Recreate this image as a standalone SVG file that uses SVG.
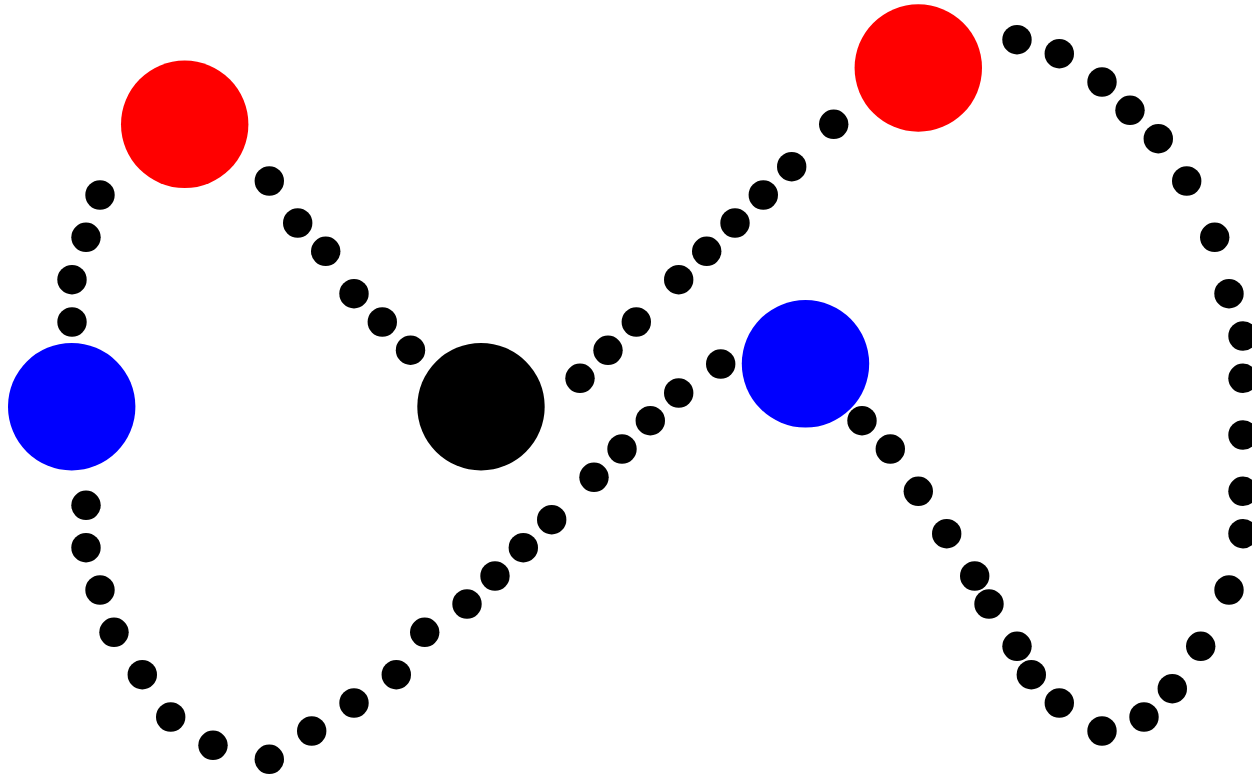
<svg xmlns="http://www.w3.org/2000/svg" width="1252" height="777" viewBox="0 0 1252 777">
<style>
.d{fill:#000}
.big{r:63.7px}
.red{fill:#ff0000}
.blue{fill:#0000ff}
.blk{fill:#000}
</style>
<rect width="1252" height="777" fill="#fff"/>
<g id="connectors" class="d">
<circle cx="100" cy="195" r="14.7"/>
<circle cx="86" cy="237.3" r="14.7"/>
<circle cx="72" cy="279.7" r="14.7"/>
<circle cx="72" cy="322" r="14.7"/>
<circle cx="269.3" cy="181" r="14.7"/>
<circle cx="297.7" cy="223" r="14.7"/>
<circle cx="325.7" cy="251.3" r="14.7"/>
<circle cx="354" cy="293.7" r="14.7"/>
<circle cx="382.3" cy="322" r="14.7"/>
<circle cx="410.5" cy="350.2" r="14.7"/>
<circle cx="580" cy="378.3" r="14.7"/>
<circle cx="608" cy="350.3" r="14.7"/>
<circle cx="636.3" cy="322" r="14.7"/>
<circle cx="678.7" cy="279.7" r="14.7"/>
<circle cx="706.7" cy="251.3" r="14.7"/>
<circle cx="735" cy="223" r="14.7"/>
<circle cx="763.3" cy="195" r="14.7"/>
<circle cx="791.7" cy="166.7" r="14.7"/>
<circle cx="833.7" cy="124.3" r="14.7"/>
<circle cx="1017" cy="39.7" r="14.7"/>
<circle cx="1059.3" cy="53.7" r="14.7"/>
<circle cx="1102" cy="82" r="14.7"/>
<circle cx="1130" cy="110.3" r="14.7"/>
<circle cx="1158.3" cy="138.7" r="14.7"/>
<circle cx="1186.7" cy="181" r="14.7"/>
<circle cx="1214.7" cy="237.3" r="14.7"/>
<circle cx="1229" cy="293.7" r="14.7"/>
<circle cx="1243" cy="336" r="14.7"/>
<circle cx="1243" cy="378.3" r="14.7"/>
<circle cx="1243" cy="435" r="14.7"/>
<circle cx="1243" cy="491.3" r="14.7"/>
<circle cx="1243" cy="533.7" r="14.7"/>
<circle cx="1229" cy="590" r="14.7"/>
<circle cx="1200.7" cy="646.3" r="14.7"/>
<circle cx="1172.3" cy="688.7" r="14.7"/>
<circle cx="1144" cy="717" r="14.7"/>
<circle cx="1102" cy="731" r="14.7"/>
<circle cx="1059.3" cy="703" r="14.7"/>
<circle cx="1031.3" cy="674.7" r="14.7"/>
<circle cx="1017" cy="646.3" r="14.7"/>
<circle cx="989" cy="604" r="14.7"/>
<circle cx="974.7" cy="576" r="14.7"/>
<circle cx="946.7" cy="533.7" r="14.7"/>
<circle cx="918.3" cy="491.3" r="14.7"/>
<circle cx="890.3" cy="449" r="14.7"/>
<circle cx="862" cy="420.7" r="14.7"/>
<circle cx="720.7" cy="364" r="14.7"/>
<circle cx="678.7" cy="393" r="14.7"/>
<circle cx="650.3" cy="420.7" r="14.7"/>
<circle cx="622" cy="449" r="14.7"/>
<circle cx="594" cy="477.3" r="14.7"/>
<circle cx="551.7" cy="519.7" r="14.7"/>
<circle cx="523.3" cy="547.7" r="14.7"/>
<circle cx="495" cy="576" r="14.7"/>
<circle cx="467" cy="604" r="14.7"/>
<circle cx="424.7" cy="632.3" r="14.7"/>
<circle cx="396.3" cy="674.7" r="14.7"/>
<circle cx="354" cy="703" r="14.7"/>
<circle cx="311.7" cy="731" r="14.7"/>
<circle cx="269.3" cy="759.3" r="14.7"/>
<circle cx="213" cy="745.3" r="14.7"/>
<circle cx="170.7" cy="717" r="14.7"/>
<circle cx="142.3" cy="674.7" r="14.7"/>
<circle cx="114" cy="632.3" r="14.7"/>
<circle cx="100" cy="590" r="14.7"/>
<circle cx="86" cy="547.7" r="14.7"/>
<circle cx="86" cy="505.3" r="14.7"/>
</g>
<g id="red1"><circle class="red" cx="184.7" cy="124.3" r="63.7"/></g>
<g id="red2"><circle class="red" cx="918.3" cy="68" r="63.7"/></g>
<g id="blue1"><circle class="blue" cx="71.7" cy="406.7" r="63.7"/></g>
<g id="blue2"><circle class="blue" cx="805.5" cy="363.8" r="63.7"/></g>
<g id="black"><circle class="blk" cx="481" cy="406.7" r="63.7"/></g>
</svg>
